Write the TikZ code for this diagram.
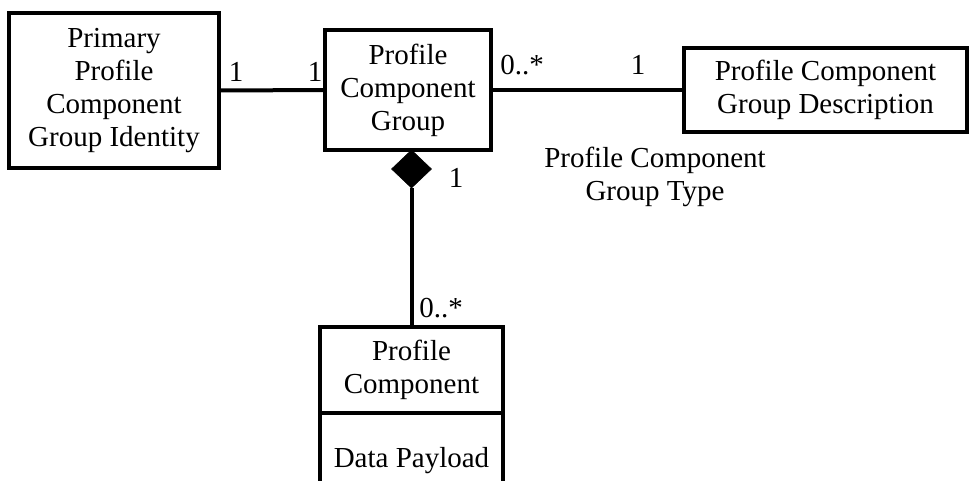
\documentclass[tikz,border=0pt]{standalone}
\usepackage{fontspec}
\setmainfont{Liberation Serif}
\usetikzlibrary{shapes.geometric}
\tikzset{
  umlbox/.style={draw, line width=4pt, rectangle, align=center, inner sep=0pt,
    outer sep=0pt, font=\fontsize{29}{33}\selectfont},
  lbl/.style={inner sep=0pt, align=center, font=\fontsize{29}{33}\selectfont},
  assoc/.style={line width=4pt},
  compo/.style={diamond, fill=black, draw=black, line width=0.5pt, inner sep=0pt,
    outer sep=0pt, minimum width=40pt, minimum height=38pt, aspect=1},
}
\begin{document}
\begin{tikzpicture}[x=1pt, y=-1pt]
  \useasboundingbox (0,0) rectangle (971,480);
  \clip (0,0) rectangle (971,480);

  % classes
  \node[umlbox, minimum width=210pt, minimum height=155pt] (A) at (114,90.5)
    {Primary\\Profile\\Component\\Group Identity};
  \node[umlbox, minimum width=166pt, minimum height=120pt] (B) at (408,90)
    {Profile\\Component\\Group};
  \node[umlbox, minimum width=283pt, minimum height=84pt] (C) at (825.5,90)
    {Profile Component\\Group Description};
  \node[umlbox, minimum width=183pt, minimum height=86pt] (D) at (411.5,370)
    {Profile\\Component};
  \node[umlbox, minimum width=183pt, minimum height=96pt, anchor=north] (Dpay)
    at (D.south) {Data Payload};

  % composition diamond under the group, in line with the part class
  \node[compo, anchor=north] (dia) at (D.center |- B.south) {};

  % connectors
  \draw[assoc] (A.east) -- (B.west);
  \draw[assoc] (B.east) -- (C.west);
  \draw[assoc] (dia.south) -- (D.north);

  % multiplicities and role name
  \node[lbl] (mA) at (236,72) {1};
  \node[lbl] (mB) at (315,72) {1};
  \node[lbl] (mB2) at (522,65) {0..*};
  \node[lbl] (mC) at (638,65) {1};
  \node[lbl] (role) at (655,177) {Profile Component\\Group Type};
  \node[lbl] (mDia) at (456,178) {1};
  \node[lbl] (mD) at (441,308) {0..*};
\end{tikzpicture}
\end{document}
